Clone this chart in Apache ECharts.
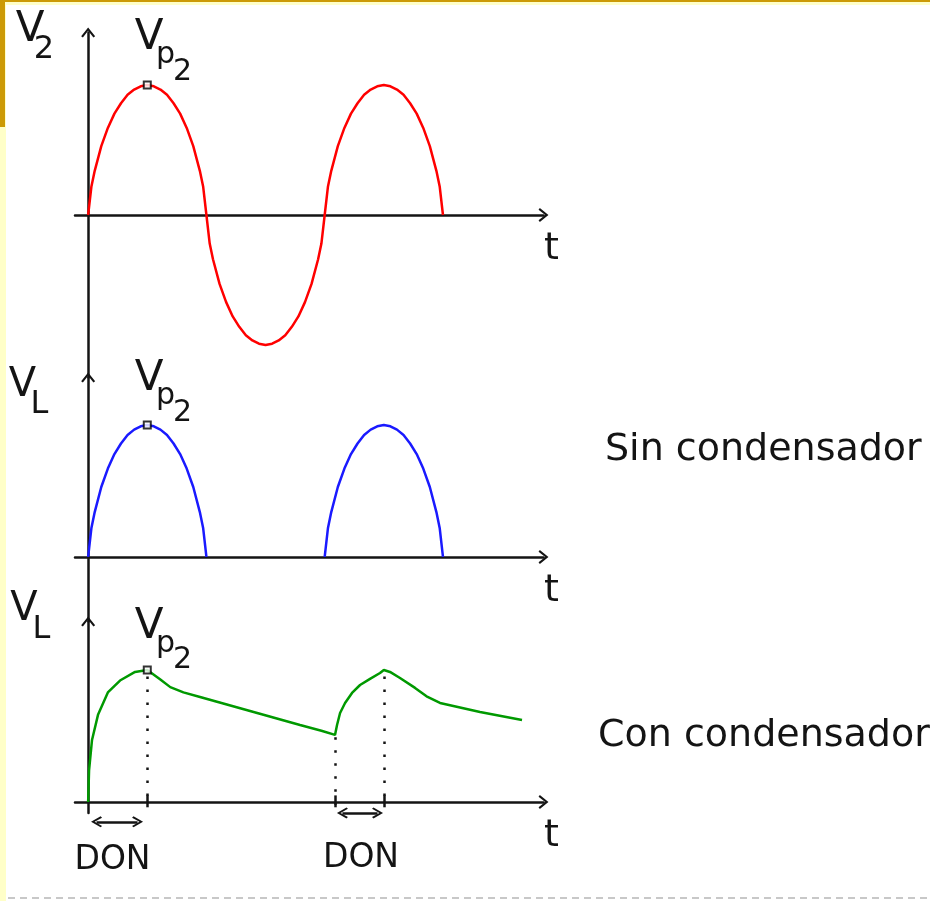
<!DOCTYPE html>
<html>
<head>
    <meta charset="utf-8" />
    <title>Rectificador de media onda</title>
    <script src="https://cdn.jsdelivr.net/npm/echarts@6/dist/echarts.min.js"></script>
    <style>
        html, body { margin: 0; padding: 0; background: #fff; }
        #main { width: 930px; height: 901px; }
    </style>
</head>
<body>
    <div id="main"></div>
    <script type="text/javascript">
        // t in degrees of the mains period, voltages relative to Vp2
        var sineT = [0,5,10,20,30,40,50,60,70,80,90,100,110,120,130,140,150,160,170,175,180,
            185,190,200,210,220,230,240,250,260,270,280,290,300,310,320,330,340,350,355,360,
            365,370,380,390,400,410,420,430,440,450,460,470,480,490,500,510,520,530,535,540];
        var redV = [0,0.22,0.34,0.53,0.67,0.78,0.86,0.925,0.965,0.99,1,0.99,0.965,0.925,0.86,0.78,0.67,0.53,0.34,0.22,0,
            -0.22,-0.34,-0.53,-0.67,-0.78,-0.86,-0.925,-0.965,-0.99,-1,-0.99,-0.965,-0.925,-0.86,-0.78,-0.67,-0.53,-0.34,-0.22,0,
            0.22,0.34,0.53,0.67,0.78,0.86,0.925,0.965,0.99,1,0.99,0.965,0.925,0.86,0.78,0.67,0.53,0.34,0.22,0];
        var blueV = [0,0.22,0.34,0.53,0.67,0.78,0.86,0.925,0.965,0.99,1,0.99,0.965,0.925,0.86,0.78,0.67,0.53,0.34,0.22,0,
            null,null,null,null,null,null,null,null,null,null,null,null,null,null,null,null,null,null,null,0,
            0.22,0.34,0.53,0.67,0.78,0.86,0.925,0.965,0.99,1,0.99,0.965,0.925,0.86,0.78,0.67,0.53,0.34,0.22,0];
        var greenT = [0,1.4,5.9,15,30,48.5,71.4,90,109.4,125,145,170.3,246.4,322.5,355,375.7,
            378.8,383.4,391,401.6,413.8,429,444.2,450,459.4,474.6,497.5,515,535.5,596.4,660.3];
        var greenV = [0,0.24,0.47,0.66,0.83,0.92,0.985,1,0.93,0.87,0.83,0.795,0.689,0.583,0.54,0.508,
            0.583,0.674,0.75,0.826,0.886,0.932,0.977,1,0.985,0.939,0.864,0.8,0.75,0.682,0.621];
        var peakT = 90;
        var dottedT = [90, 376, 450];
        var dottedTop = [0.95, 0.49, 0.95];
        var donFrom = [12.8, 387];
        var donTo = [75.2, 440.4];
        var donY = [-0.15, -0.083];

        var chart = echarts.init(document.getElementById('main'));
        var chevron = 'path://M6.5,0L13,8L11.4,9.2L6.5,3L1.6,9.2L0,8Z';
        var font = 'DejaVu Sans';
        var ink = '#141414';

        function pairs(xs, ys) {
            return xs.map(function (x, i) { return [x, ys[i]]; });
        }

        var grids = [
            { left: 75, width: 468.5, top: 32.5, height: 345 },
            { left: 75, width: 468.5, top: 377.5, height: 244 },
            { left: 75, width: 468.5, top: 621.5, height: 191.5 }
        ];
        var yRanges = [[-1.25, 1.404], [-0.489, 1.36], [-0.0833, 1.367]];

        var xAxes = [], yAxes = [];
        for (var i = 0; i < 3; i++) {
            xAxes.push({
                type: 'value', gridIndex: i, min: -20, max: 693,
                axisLine: { show: true, onZero: true, symbol: ['none', chevron], symbolSize: [14, 10],
                    lineStyle: { color: ink, width: 2.5 } },
                axisTick: { show: false }, axisLabel: { show: false }, splitLine: { show: false }
            });
            yAxes.push({
                type: 'value', gridIndex: i, min: yRanges[i][0], max: yRanges[i][1],
                axisLine: { show: true, onZero: true, symbol: ['none', chevron], symbolSize: [14, 10],
                    lineStyle: { color: ink, width: 2.5 } },
                axisTick: { show: false }, axisLabel: { show: false }, splitLine: { show: false }
            });
        }

        function peakMarker(idx) {
            return {
                type: 'scatter', xAxisIndex: idx, yAxisIndex: idx, z: 5,
                symbol: 'rect', symbolSize: 7,
                itemStyle: { color: '#fff', borderColor: '#000', borderWidth: 2 },
                data: [[peakT, 1]]
            };
        }

        function txt(x, y, s, size, align) {
            return { type: 'text', x: x, y: y, z: 10,
                style: { text: s, fontFamily: font, fontSize: size, fill: ink,
                    align: align || 'center', verticalAlign: 'middle' } };
        }

        var option = {
            backgroundColor: '#ffffff',
            animation: false,
            grid: grids,
            xAxis: xAxes,
            yAxis: yAxes,
            series: [
                {
                    type: 'line', xAxisIndex: 0, yAxisIndex: 0, showSymbol: false, z: 3,
                    lineStyle: { color: '#ff0000', width: 2.5 },
                    data: pairs(sineT, redV)
                },
                {
                    type: 'line', xAxisIndex: 1, yAxisIndex: 1, showSymbol: false, z: 3,
                    connectNulls: false,
                    lineStyle: { color: '#1a1aff', width: 2.5 },
                    data: pairs(sineT, blueV)
                },
                {
                    type: 'line', xAxisIndex: 2, yAxisIndex: 2, showSymbol: false, z: 3,
                    lineStyle: { color: '#009900', width: 2.5 },
                    data: pairs(greenT, greenV)
                },
                peakMarker(0), peakMarker(1), peakMarker(2),
                {
                    type: 'lines', coordinateSystem: 'cartesian2d', xAxisIndex: 2, yAxisIndex: 2,
                    clip: false, z: 4,
                    lineStyle: { color: ink, width: 2.5, type: [2.5, 10.5], opacity: 1 },
                    data: dottedT.map(function (t, i) {
                        return { coords: [[t, dottedTop[i]], [t, -0.03]] };
                    })
                },
                {
                    type: 'lines', coordinateSystem: 'cartesian2d', xAxisIndex: 2, yAxisIndex: 2,
                    clip: false, z: 4,
                    lineStyle: { color: ink, width: 2.5, opacity: 1 },
                    data: dottedT.map(function (t) {
                        return { coords: [[t, 0.05], [t, -0.04]] };
                    })
                },
                {
                    type: 'lines', coordinateSystem: 'cartesian2d', xAxisIndex: 2, yAxisIndex: 2,
                    clip: false, z: 4,
                    symbol: [chevron, chevron], symbolSize: 11,
                    lineStyle: { color: ink, width: 2.5, opacity: 1 },
                    data: donFrom.map(function (t, i) {
                        return { coords: [[t, donY[i]], [donTo[i], donY[i]]] };
                    })
                }
            ],
            graphic: [
                // frame
                { type: 'rect', shape: { x: 0, y: 0, width: 930, height: 5 }, style: { fill: '#ffffc8' }, z: 1 },
                { type: 'rect', shape: { x: 0, y: 0, width: 930, height: 2 }, style: { fill: '#cc9a06' }, z: 2 },
                { type: 'rect', shape: { x: 0, y: 0, width: 6, height: 901 }, style: { fill: '#ffffc8' }, z: 1 },
                { type: 'rect', shape: { x: 0, y: 0, width: 5, height: 127 }, style: { fill: '#cc9a06' }, z: 2 },
                { type: 'line', shape: { x1: 8, y1: 898, x2: 930, y2: 898 },
                    style: { stroke: '#c8c8c8', lineWidth: 2, lineDash: [7, 5] }, z: 1 },
                // axis names
                txt(30, 30, 'V', 42), txt(44, 49.5, '2', 32),
                txt(22.5, 386, 'V', 40), txt(39.5, 404.5, 'L', 32),
                txt(24, 610, 'V', 40), txt(41.5, 630, 'L', 32),
                txt(551.5, 249, 't', 38), txt(551.5, 591, 't', 38), txt(551.5, 836, 't', 38),
                // peak labels
                txt(149, 38.5, 'V', 42), txt(165.5, 55.6, 'p', 30), txt(182.5, 72.5, '2', 30),
                txt(149, 379, 'V', 42), txt(165.5, 396, 'p', 30), txt(182.5, 413, '2', 30),
                txt(149, 627.5, 'V', 42), txt(165.5, 644, 'p', 30), txt(182.5, 660, '2', 30),
                // captions
                txt(605, 450, 'Sin condensador', 38, 'left'),
                txt(598, 736, 'Con condensador', 38, 'left'),
                txt(112.5, 860, 'DON', 33), txt(361, 858.5, 'DON', 33)
            ]
        };
        chart.setOption(option);
    </script>
</body>
</html>
